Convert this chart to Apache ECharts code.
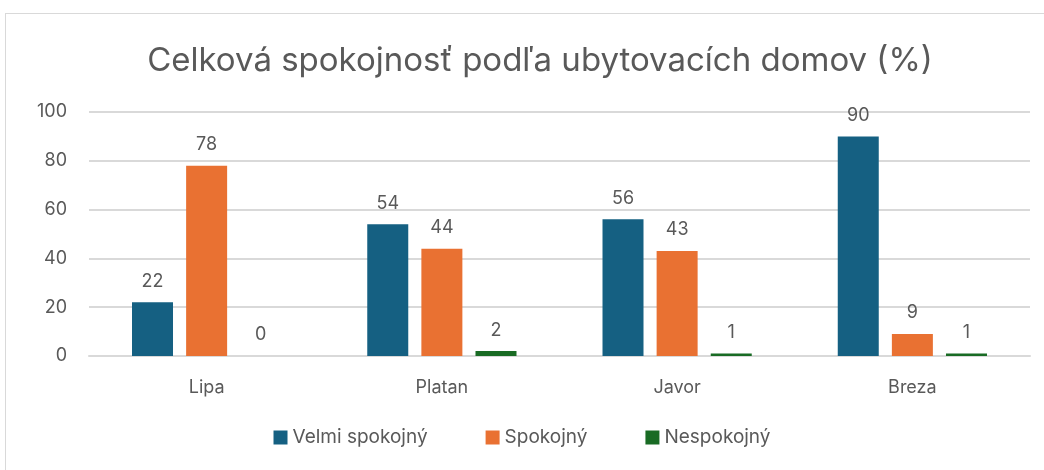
<!DOCTYPE html>
<html>
<head>
<meta charset="utf-8">
<script src="https://cdn.jsdelivr.net/npm/echarts@6/dist/echarts.min.js"></script>
<style>
  html, body { margin: 0; padding: 0; background: #fff; }
  #frame {
    position: absolute; left: 5px; top: 13px; width: 1050px; height: 470px;
    border: 1px solid #d9d9d9; box-sizing: border-box;
  }
  #chart { position: absolute; left: 0; top: 0; width: 1044px; height: 470px; }
</style>
</head>
<body>
<div id="frame"></div>
<div id="chart"></div>
<script>
const TITLE = "Celková spokojnosť podľa ubytovacích domov (%)";
const categories = ["Lipa", "Platan", "Javor", "Breza"];
const seriesNames = ["Velmi spokojný", "Spokojný", "Nespokojný"];
const velmiSpokojny = [22, 54, 56, 90];
const spokojny = [78, 44, 43, 9];
const nespokojny = [0, 2, 1, 1];
const colors = ["#156082", "#E97132", "#196B24"];

const FONT = "Inter, 'Open Sans', sans-serif";
const TEXT_COLOR = "#595959";

const chart = echarts.init(document.getElementById("chart"), null, { renderer: "canvas" });

function makeSeries(name, data, color) {
  return {
    name,
    type: "bar",
    data,
    barWidth: 41,
    barGap: "32%",
    itemStyle: { color },
    label: {
      show: true,
      position: "top",
      distance: 12,
      color: TEXT_COLOR,
      fontFamily: FONT,
      fontSize: 18,
    },
  };
}

chart.setOption({
  animation: false,
  title: {
    text: TITLE,
    left: 535,
    textAlign: "center",
    top: 40,
    textStyle: { color: TEXT_COLOR, fontFamily: FONT, fontSize: 33, fontWeight: "normal" },
  },
  legend: {
    data: seriesNames,
    bottom: 18,
    left: "center",
    itemWidth: 14,
    itemHeight: 14,
    itemGap: 58,
    icon: "rect",
    textStyle: { color: TEXT_COLOR, fontFamily: FONT, fontSize: 19 },
  },
  grid: { left: 89, right: 14, top: 112, bottom: 114, containLabel: false },
  xAxis: {
    type: "category",
    data: categories,
    axisLine: { show: true, lineStyle: { color: "#d9d9d9", width: 2 } },
    axisTick: { show: false },
    axisLabel: { color: TEXT_COLOR, fontFamily: FONT, fontSize: 18, margin: 23 },
  },
  yAxis: {
    type: "value",
    min: 0,
    max: 100,
    interval: 20,
    axisLine: { show: false },
    axisTick: { show: false },
    axisLabel: { color: TEXT_COLOR, fontFamily: FONT, fontSize: 18, margin: 22 },
    splitLine: { lineStyle: { color: "#d9d9d9", width: 2 } },
  },
  series: [
    makeSeries(seriesNames[0], velmiSpokojny, colors[0]),
    makeSeries(seriesNames[1], spokojny, colors[1]),
    makeSeries(seriesNames[2], nespokojny, colors[2]),
  ],
});
</script>
</body>
</html>
